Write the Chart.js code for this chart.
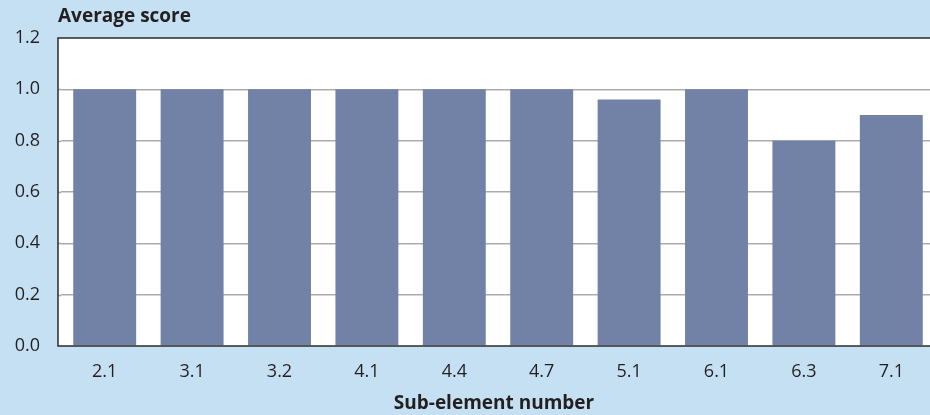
<!DOCTYPE html>
<html>
<head>
<meta charset="utf-8">
<script src="https://cdn.jsdelivr.net/npm/chart.js@4/dist/chart.umd.min.js"></script>
<style>
  html, body { margin: 0; padding: 0; background: #c6e0f3; overflow: hidden; }
  #wrap { width: 930px; height: 415px; position: relative; overflow: hidden; }
  #c { display: block; }
</style>
</head>
<body>
<div id="wrap"><canvas id="c" width="935" height="415"></canvas></div>
<script>
// Sub-element numbers and their average scores
const subElements = ['2.1', '3.1', '3.2', '4.1', '4.4', '4.7', '5.1', '6.1', '6.3', '7.1'];
const averageScores = [1.0, 1.0, 1.0, 1.0, 1.0, 1.0, 0.96, 1.0, 0.8, 0.9];
const yTicks = [0, 0.2, 0.4, 0.6, 0.8, 1.0, 1.2];

const yAxisTitle = 'Average score';
const xAxisTitle = 'Sub-element number';

const FONT = '"Open Sans", "DejaVu Sans", sans-serif';
const BG = '#c6e0f3';
const TEXT = '#231f20';
const FRAME_LEFT = 58;   // plot frame sits a little left of the first category
const VISIBLE_W = 930;

// Light blue page, white plot panel with its frame, and the axis titles
const frame = {
  id: 'frame',
  beforeDraw(chart) {
    const { ctx, chartArea: a } = chart;
    ctx.save();
    ctx.fillStyle = BG;
    ctx.fillRect(0, 0, chart.width, chart.height);
    ctx.fillStyle = '#ffffff';
    ctx.fillRect(FRAME_LEFT, a.top, chart.width - FRAME_LEFT, a.bottom - a.top);
    ctx.restore();
  },
  afterDraw(chart) {
    const { ctx, chartArea: a } = chart;
    ctx.save();
    ctx.strokeStyle = '#2b2b2b';
    ctx.lineWidth = 1.5;
    ctx.beginPath();
    ctx.moveTo(chart.width, a.top);
    ctx.lineTo(FRAME_LEFT, a.top);
    ctx.lineTo(FRAME_LEFT, a.bottom);
    ctx.lineTo(chart.width, a.bottom);
    ctx.stroke();
    ctx.fillStyle = TEXT;
    ctx.font = 'bold 19px ' + FONT;
    ctx.textBaseline = 'middle';
    ctx.textAlign = 'left';
    ctx.fillText(yAxisTitle, FRAME_LEFT, 17);
    ctx.textAlign = 'center';
    ctx.fillText(xAxisTitle, (FRAME_LEFT + VISIBLE_W) / 2, 404);
    ctx.restore();
  }
};

new Chart(document.getElementById('c'), {
  type: 'bar',
  data: {
    labels: subElements,
    datasets: [{
      data: averageScores,
      backgroundColor: '#7281a6',
      borderWidth: 0,
      barPercentage: 0.72,
      categoryPercentage: 1.0
    }]
  },
  options: {
    responsive: false,
    animation: false,
    devicePixelRatio: 1,
    layout: { padding: { top: 38, right: 0, left: 0, bottom: 0 } },
    plugins: {
      legend: { display: false },
      tooltip: { enabled: false },
      title: { display: false }
    },
    scales: {
      x: {
        grid: { display: false, drawTicks: false },
        border: { display: false },
        ticks: {
          color: TEXT,
          font: { family: FONT, size: 18 },
          padding: 15,
          maxRotation: 0
        },
        afterFit(scale) {
          scale.height = 69;
          scale.paddingLeft = 0;
          scale.paddingRight = 0;
        }
      },
      y: {
        min: 0,
        max: 1.2,
        afterBuildTicks(scale) { scale.ticks = yTicks.map(v => ({ value: v })); },
        grid: {
          color: ctx => (ctx.tick && (ctx.tick.value === 0 || ctx.tick.value === 1.2)) ? 'rgba(0,0,0,0)' : '#ababab',
          lineWidth: 1.6,
          drawTicks: false
        },
        border: { display: false },
        ticks: {
          color: TEXT,
          font: { family: FONT, size: 18 },
          padding: 21,
          callback: v => Number(v).toFixed(1)
        },
        afterFit(scale) { scale.width = 61; }
      }
    }
  },
  plugins: [frame, {
    // gridlines run from the frame edge, not from the first category
    id: 'gridStub',
    beforeDatasetsDraw(chart) {
      const { ctx, chartArea: a, scales: { y } } = chart;
      ctx.save();
      ctx.strokeStyle = '#ababab';
      ctx.lineWidth = 1.6;
      yTicks.filter(v => v > 0 && v < 1.2).forEach(v => {
        const py = Math.round(y.getPixelForValue(v)) + 0.5;
        ctx.beginPath();
        ctx.moveTo(FRAME_LEFT, py);
        ctx.lineTo(a.left, py);
        ctx.stroke();
      });
      ctx.restore();
    }
  }]
});
</script>
</body>
</html>
